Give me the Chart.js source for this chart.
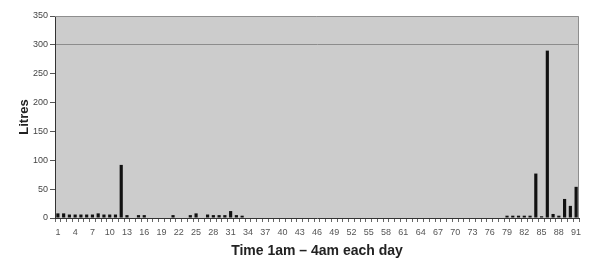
<!DOCTYPE html>
<html>
<head>
  <title>Litres 1am - 4am</title>
  <script src="https://cdn.jsdelivr.net/npm/chart.js"></script>
  <style>
    body { margin: 0; background: #fff; }
    #wrap { width: 589px; height: 260px; }
  </style>
</head>
<body>
  <div id="wrap"><canvas id="litresChart" width="589" height="260"></canvas></div>

  <script>
    const days = [
      1, 2, 3, 4, 5, 6, 7, 8, 9, 10, 11, 12, 13, 14, 15, 16, 17, 18, 19, 20,
      21, 22, 23, 24, 25, 26, 27, 28, 29, 30, 31, 32, 33, 34, 35, 36, 37, 38, 39, 40,
      41, 42, 43, 44, 45, 46, 47, 48, 49, 50, 51, 52, 53, 54, 55, 56, 57, 58, 59, 60,
      61, 62, 63, 64, 65, 66, 67, 68, 69, 70, 71, 72, 73, 74, 75, 76, 77, 78, 79, 80,
      81, 82, 83, 84, 85, 86, 87, 88, 89, 90, 91
    ];
    const litres = [
      8, 8, 6, 6, 6, 6, 6, 8, 6, 6,
      6, 92, 5, 0, 5, 5, 0, 0, 0, 0,
      5, 0, 0, 5, 8, 0, 6, 5, 5, 5,
      12, 5, 4, 0, 0, 0, 0, 0, 0, 0,
      0, 0, 0, 0, 0, 0, 0, 0, 0, 0,
      0, 0, 0, 0, 0, 0, 0, 0, 0, 0,
      0, 0, 0, 0, 0, 0, 0, 0, 0, 0,
      0, 0, 0, 0, 0, 0, 0, 0, 4, 4,
      4, 4, 4, 77, 3, 290, 7, 4, 33, 21,
      54
    ];
    const yMax = 350;
    const yStep = 50;

    // grey plot area + thin frame like the old spreadsheet chart
    const plotBg = {
      id: "plotBg",
      beforeDraw(chart) {
        const { ctx, chartArea: a } = chart;
        ctx.save();
        ctx.fillStyle = "#cccccc";
        ctx.fillRect(a.left, a.top, a.right - a.left, a.bottom - a.top);
        ctx.restore();
      },
      afterDatasetsDraw(chart) {
        const { ctx, chartArea: a } = chart;
        ctx.save();
        ctx.strokeStyle = "#8e8e8e";
        ctx.lineWidth = 1;
        ctx.beginPath();
        ctx.moveTo(a.left, a.top + 0.5);
        ctx.lineTo(a.right - 0.5, a.top + 0.5);
        ctx.lineTo(a.right - 0.5, a.bottom);
        ctx.stroke();
        ctx.restore();
      }
    };

    const ctx = document.getElementById("litresChart").getContext("2d");
    new Chart(ctx, {
      type: "bar",
      data: {
        labels: days,
        datasets: [{
          label: "Litres",
          data: litres,
          backgroundColor: "#111",
          barPercentage: 0.55,
          categoryPercentage: 1
        }]
      },
      options: {
        responsive: false,
        animation: false,
        devicePixelRatio: 1,
        layout: { padding: { left: 13, right: 10, top: 16, bottom: 0 } },
        plugins: {
          legend: { display: false },
          tooltip: { enabled: false }
        },
        scales: {
          x: {
            grid: { drawOnChartArea: false, tickColor: "#666", tickLength: 4, offset: true },
            border: { color: "#333" },
            ticks: {
              autoSkip: false,
              maxRotation: 0,
              minRotation: 0,
              padding: 5,
              color: "#555",
              font: { family: "Arial", size: 9 },
              callback: (v, i) => (i % 3 === 0 ? days[i] : "")
            },
            title: {
              display: true,
              text: "Time 1am \u2013 4am each day",
              color: "#222",
              font: { family: "Arial", size: 14, weight: "bold" },
              padding: { top: 2, bottom: 0 }
            },
            afterFit: s => { s.height = 42; }
          },
          y: {
            min: 0,
            max: yMax,
            grid: {
              color: c => (c.tick && c.tick.value === 300 ? "#8c8c8c" : "transparent"),
              tickColor: "#555",
              tickLength: 5
            },
            border: { color: "#333" },
            ticks: {
              stepSize: yStep,
              padding: 2,
              color: "#444",
              font: { family: "Arial", size: 9 }
            },
            title: {
              display: true,
              text: "Litres",
              color: "#222",
              font: { family: "Arial", size: 13, weight: "bold" }
            },
            afterFit: s => { s.width = 42; }
          }
        }
      },
      plugins: [plotBg]
    });
  </script>
</body>
</html>
